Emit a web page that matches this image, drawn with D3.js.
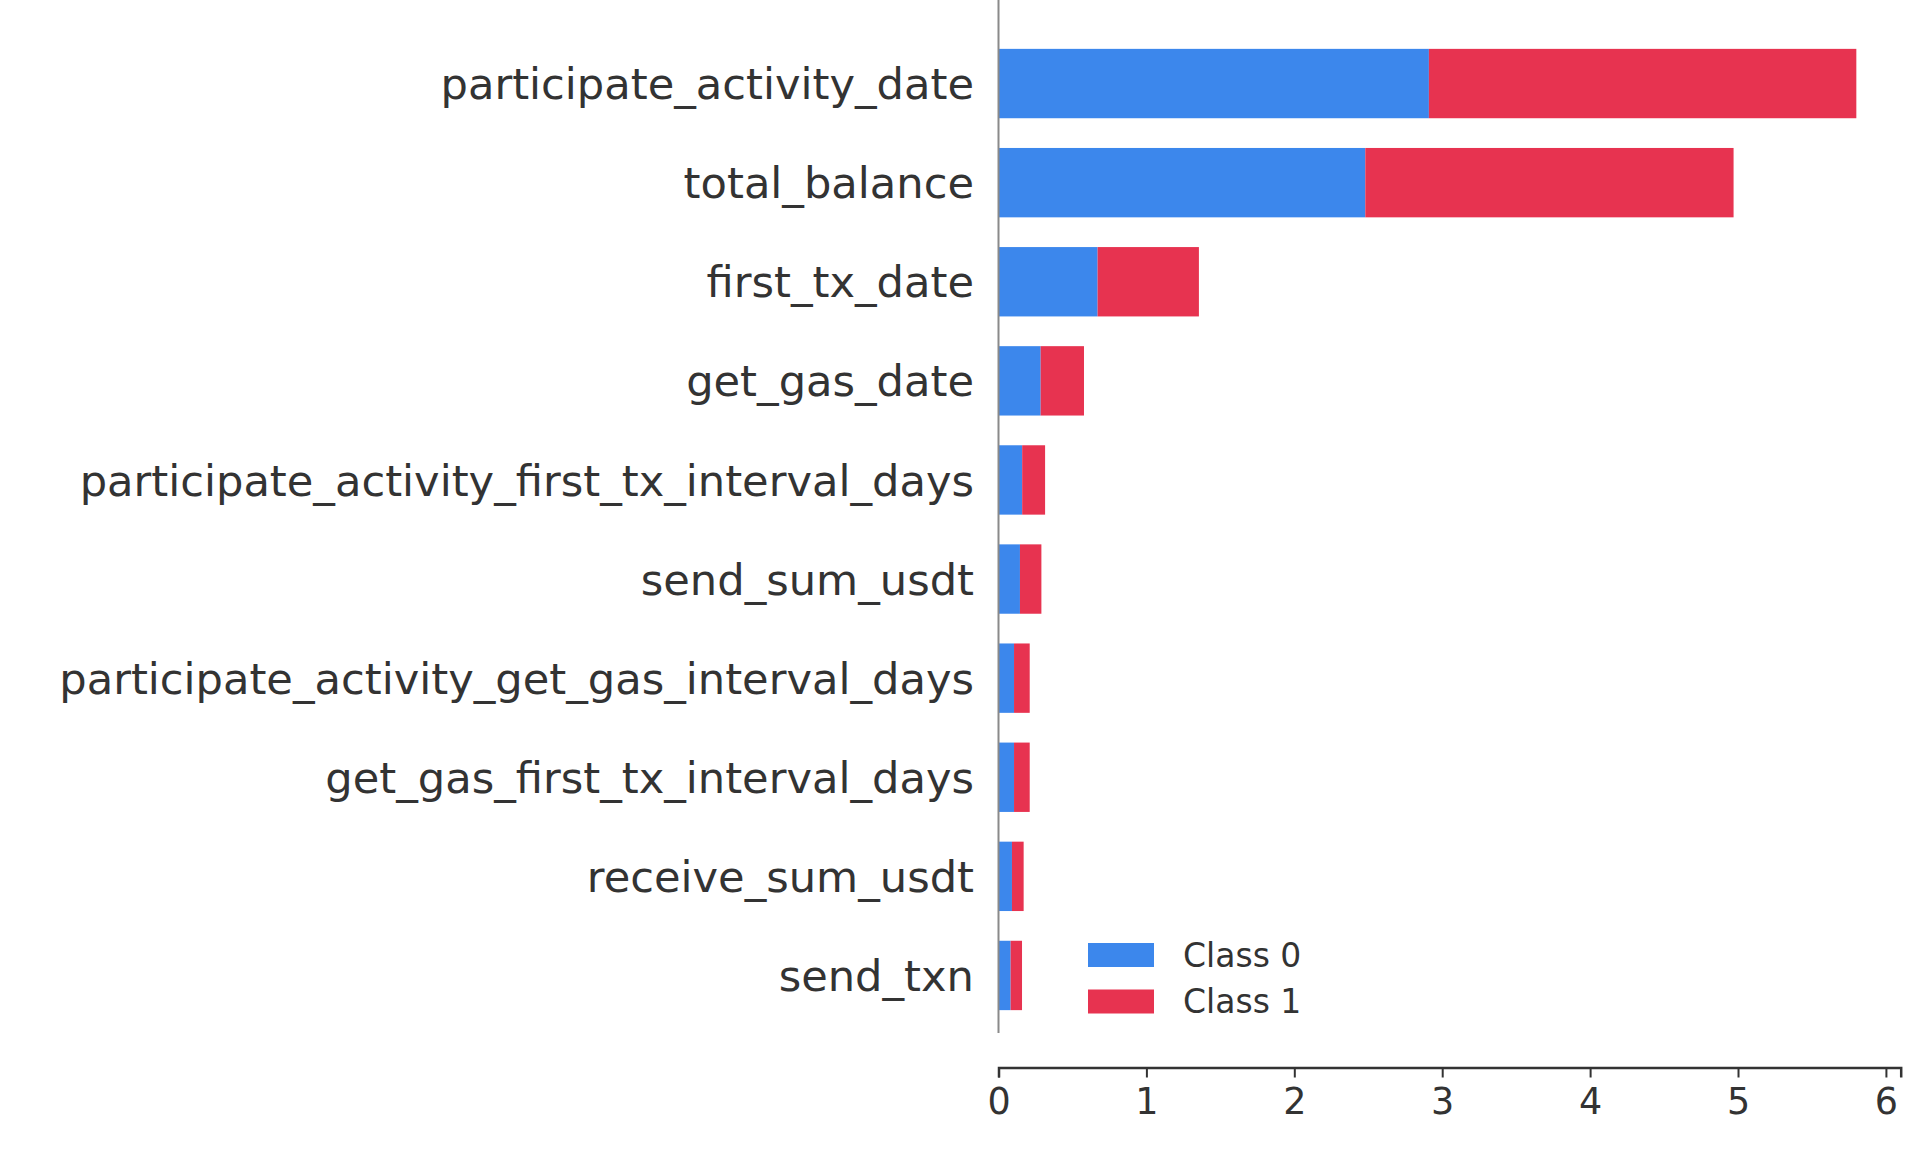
<!DOCTYPE html>
<html>
<head>
<meta charset="utf-8">
<script src="https://cdnjs.cloudflare.com/ajax/libs/d3/7.8.5/d3.min.js"></script>
<style>
  html, body { margin: 0; padding: 0; background: #fff; }
  svg { display: block; }
  text { font-family: "DejaVu Sans", sans-serif; fill: #333; }
</style>
</head>
<body>
<svg id="chart" width="1920" height="1160"></svg>
<script>
const features = [
  "participate_activity_date",
  "total_balance",
  "first_tx_date",
  "get_gas_date",
  "participate_activity_first_tx_interval_days",
  "send_sum_usdt",
  "participate_activity_get_gas_interval_days",
  "get_gas_first_tx_interval_days",
  "receive_sum_usdt",
  "send_txn"
];
const class0 = [2.91, 2.48, 0.67, 0.285, 0.16, 0.145, 0.105, 0.105, 0.091, 0.082];
const class1 = [2.89, 2.49, 0.685, 0.293, 0.155, 0.145, 0.106, 0.106, 0.079, 0.077];
const seriesNames = ["Class 0", "Class 1"];
const seriesColors = ["#3c87ec", "#e73350"];
const xTicks = [0, 1, 2, 3, 4, 5, 6];

const svg = d3.select("#chart");

const x = d3.scaleLinear().domain([0, 6.1]).range([998.5, 1900.7]);
const y = d3.scaleBand().domain(features).range([34, 1025]).paddingInner(0.3).paddingOuter(0.15);

const rows = features.map((f, i) => ({ f, v0: class0[i], v1: class1[i] }));

// bars
const g = svg.append("g");
g.selectAll("rect.c0").data(rows).join("rect")
  .attr("class", "c0")
  .attr("x", x(0))
  .attr("y", d => y(d.f))
  .attr("width", d => x(d.v0) - x(0))
  .attr("height", y.bandwidth())
  .attr("fill", seriesColors[0]);
g.selectAll("rect.c1").data(rows).join("rect")
  .attr("class", "c1")
  .attr("x", d => x(d.v0))
  .attr("y", d => y(d.f))
  .attr("width", d => x(d.v0 + d.v1) - x(d.v0))
  .attr("height", y.bandwidth())
  .attr("fill", seriesColors[1]);

// left spine
svg.append("line")
  .attr("x1", x(0)).attr("x2", x(0))
  .attr("y1", 0).attr("y2", 1033)
  .attr("stroke", "#8a8a8a").attr("stroke-width", 2);

// y labels
svg.append("g").selectAll("text").data(features).join("text")
  .attr("x", 974)
  .attr("y", d => y(d) + y.bandwidth() / 2)
  .attr("dy", "0.36em")
  .attr("text-anchor", "end")
  .attr("font-size", 43.2)
  .text(d => d);

// x axis
const xAxis = d3.axisBottom(x).tickValues(xTicks).tickFormat(d3.format("d")).tickSizeOuter(0).tickSize(10).tickPadding(11);
const ax = svg.append("g").attr("transform", "translate(0,1067.5)").call(xAxis);
ax.select(".domain").attr("stroke", "#333").attr("stroke-width", 2.5);
ax.selectAll(".tick line").attr("stroke", "#333").attr("stroke-width", 2);
ax.selectAll(".tick text")
  .attr("font-size", 36.5)
  .attr("font-family", "DejaVu Sans")
  .attr("fill", "#333");

// legend
const legend = svg.append("g");
seriesNames.forEach((name, i) => {
  const yy = 943 + i * 46.5;
  legend.append("rect")
    .attr("x", 1088).attr("y", yy)
    .attr("width", 66).attr("height", 24)
    .attr("fill", seriesColors[i]);
  legend.append("text")
    .attr("x", 1183).attr("y", yy + 12)
    .attr("dy", "0.36em")
    .attr("font-size", 33)
    .text(name);
});
</script>
</body>
</html>
